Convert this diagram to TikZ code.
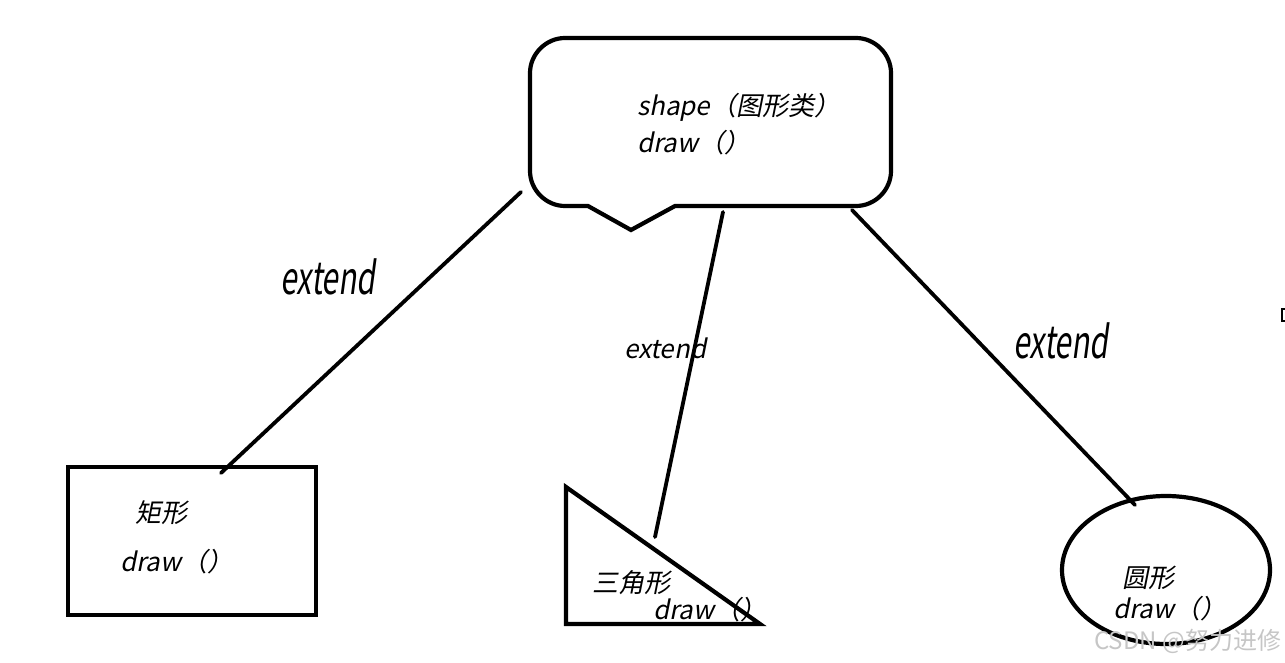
\documentclass[tikz,border=0pt]{standalone}
\usepackage{graphicx}
\usepackage{fontspec}
\newfontfamily\cjk[FakeSlant=0.2]{Noto Sans CJK SC}
\newfontfamily\cjkup{Noto Sans CJK SC}
\usetikzlibrary{shapes.geometric}

\begin{document}
\begin{tikzpicture}[x=0.5pt, y=-0.5pt, line width=2.1pt,
  lbl/.style={font=\cjk\fontsize{13}{18.5}\selectfont, anchor=west, inner sep=0pt, align=left},
  biglbl/.style={font=\cjk\fontsize{15}{18}\selectfont, inner sep=0pt},
  link/.style={line width=1.9pt, line cap=round}]
\useasboundingbox (0,0) rectangle (1285,663);
% base class
\draw (588,206) -- (631,230) -- (675,206) -- (856,206) .. controls (875,206) and (891,190) .. (891,171)
  -- (891,73) .. controls (891,54) and (875,38) .. (856,38) -- (565,38) .. controls (546,38) and (530,54) .. (530,73)
  -- (530,171) .. controls (530,190) and (546,206) .. (565,206) -- cycle;
\node[lbl] (base) at (635,124) {shape（图形类）\\draw（）};
% subclasses
\node[draw, minimum width=124pt, minimum height=74pt, inner sep=0pt] (rect) at (192,541) {};
\node[lbl] (rectname) at (133,513) {矩形};
\node[lbl] (rectdraw) at (118,562) {draw（）};
\coordinate (tri-a) at (566,487);
\coordinate (tri-b) at (566,624);
\coordinate (tri-c) at (760,624);
\draw[line join=miter] (tri-a) -- (tri-b) -- (tri-c) -- cycle;
\node[lbl] (triname) at (590,583) {三角形};
\node[lbl] (tridraw) at (651,610) {draw（）};
\node[draw, ellipse, minimum width=104pt, minimum height=74pt, inner sep=0pt] (circ) at (1166,570) {};
\node[lbl] (circname) at (1120,578) {圆形};
\node[lbl] (circdraw) at (1111,609) {draw（）};
% labels
\node[biglbl] (ext1) at (328,277) {\scalebox{1}[1.5]{extend}};
\node[lbl] (ext2) at (622,348) {extend};
\node[biglbl] (ext3) at (1061,341) {\scalebox{1}[1.5]{extend}};
% links
\coordinate (base-l) at (521,192);
\coordinate (base-m) at (723,212);
\coordinate (base-r) at (852,210);
\coordinate (rect-t) at (221,473);
\coordinate (tri-t) at (655,537);
\coordinate (circ-t) at (1135,505);
\draw[link] (base-l) -- (rect-t);
\draw[link] (base-m) -- (tri-t);
\draw[link] (base-r) -- (circ-t);
\draw[line width=1.2pt] (1285,309) -- (1282,309) -- (1282,321) -- (1285,321);
\node[anchor=west, inner sep=0pt, text=gray!45, font=\cjkup\fontsize{12}{14}\selectfont] (mark) at (1092,641) {CSDN @努力进修};
\end{tikzpicture}
\end{document}
